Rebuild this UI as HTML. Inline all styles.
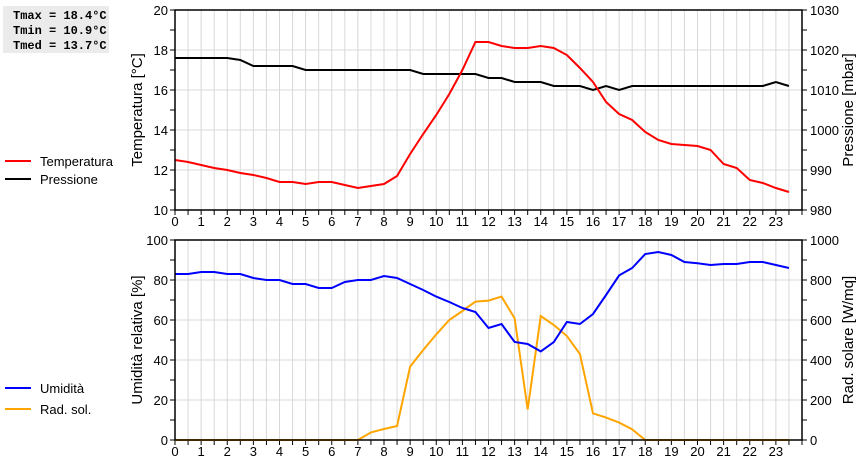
<!DOCTYPE html>
<html><head><meta charset="utf-8"><style>
body{margin:0;background:#fff;width:860px;height:460px;overflow:hidden;font-family:"Liberation Sans",sans-serif}
</style></head><body>
<svg id="c" width="860" height="460" xmlns="http://www.w3.org/2000/svg">
<rect x="3" y="6" width="106" height="47" fill="#ebebeb"/>
<g font-family="Liberation Mono,monospace" font-size="12" font-weight="bold" fill="#000">
<text x="13" y="19">Tmax = 18.4°C</text>
<text x="13" y="34">Tmin = 10.9°C</text>
<text x="13" y="49">Tmed = 13.7°C</text>
</g>
<g font-size="13">
<line x1="5" y1="161" x2="31" y2="161" stroke="#f00" stroke-width="2"/><text x="40" y="166">Temperatura</text>
<line x1="5" y1="179" x2="31" y2="179" stroke="#000" stroke-width="2"/><text x="40" y="184">Pressione</text>
</g>
<g font-size="13">
<line x1="5" y1="388" x2="31" y2="388" stroke="#00f" stroke-width="2"/><text x="40" y="393">Umidità</text>
<line x1="5" y1="409" x2="31" y2="409" stroke="#ffa500" stroke-width="2"/><text x="40" y="414">Rad. sol.</text>
</g>
</svg>
<script>
const hours=[0,0.5,1,1.5,2,2.5,3,3.5,4,4.5,5,5.5,6,6.5,7,7.5,8,8.5,9,9.5,10,10.5,11,11.5,12,12.5,13,13.5,14,14.5,15,15.5,16,16.5,17,17.5,18,18.5,19,19.5,20,20.5,21,21.5,22,22.5,23,23.5];
const temperature=[12.5,12.4,12.25,12.1,12.0,11.85,11.75,11.6,11.4,11.4,11.3,11.4,11.4,11.25,11.1,11.2,11.3,11.7,12.8,13.8,14.75,15.8,17.0,18.4,18.4,18.2,18.1,18.1,18.2,18.1,17.75,17.1,16.4,15.4,14.8,14.5,13.9,13.5,13.3,13.25,13.2,13.0,12.3,12.1,11.5,11.35,11.1,10.9];
const pressure=[1018,1018,1018,1018,1018,1017.5,1016,1016,1016,1016,1015,1015,1015,1015,1015,1015,1015,1015,1015,1014,1014,1014,1014,1014,1013,1013,1012,1012,1012,1011,1011,1011,1010,1011,1010,1011,1011,1011,1011,1011,1011,1011,1011,1011,1011,1011,1012,1011];
const humidity=[83,83,84,84,83,83,81,80,80,78,78,76,76,79,80,80,82,81,78,75,71.7,69,66,64,56,58,49,48,44.3,49,59,58,63,72.5,82.3,86,93,94,92.5,89,88.4,87.5,88,88,89,89,87.5,86];
const radiation=[0,0,0,0,0,0,0,0,0,0,0,0,0,0,0,38,55,70,367,450,528,600,645,692,697,717,608,153,620,575,520,430,133,112,87,53,0,0,0,0,0,0,0,0,0,0,0,0];
const tempTicks=[10,12,14,16,18,20];
const pressTicks=[980,990,1000,1010,1020,1030];
const humTicks=[0,20,40,60,80,100];
const radTicks=[0,200,400,600,800,1000];

const svg=document.getElementById('c');
const NS='http://www.w3.org/2000/svg';
const X0=175,X1=802;
const xs=h=>X0+(X1-X0)*h/24;
function el(tag,attrs,parent){const e=document.createElementNS(NS,tag);for(const k in attrs)e.setAttribute(k,attrs[k]);(parent||svg).appendChild(e);return e;}
function panel(name,top,bot,lt,rt,lTitle,rTitle,series){
  const g=el('g',{});
  
  
  const ly=v=>bot-(bot-top)*(v-lt[0])/(lt[lt.length-1]-lt[0]);
  const ry=v=>bot-(bot-top)*(v-rt[0])/(rt[rt.length-1]-rt[0]);
  for(let i=0;i<=48;i++){const x=xs(i/2);
    el('line',{x1:x,y1:top,x2:x,y2:bot,stroke:'#d8d8d8','stroke-width':1},g);
    el('line',{x1:x,y1:bot,x2:x,y2:bot+5,stroke:'#000'},g);}
  const n=lt.length-1;
  for(let i=0;i<=2*n;i++){const y=top+(bot-top)*i/(2*n);
    if(i%2===0&&i>0&&i<2*n) el('line',{x1:X0,y1:y,x2:X1,y2:y,stroke:'#d8d8d8'},g);
    el('line',{x1:X0-5,y1:y,x2:X0,y2:y,stroke:'#000'},g);
    el('line',{x1:X1,y1:y,x2:X1+5,y2:y,stroke:'#000'},g);}
  lt.forEach(v=>{const t=el('text',{x:X0-7,y:ly(v)+5,'text-anchor':'end','font-size':13},g);t.textContent=v;
    });
  rt.forEach(v=>{const t=el('text',{x:X1+8,y:ry(v)+5,'font-size':13},g);t.textContent=v;
    });
  for(let h=0;h<24;h++){const t=el('text',{x:xs(h),y:bot+16,'text-anchor':'middle','font-size':13},g);t.textContent=h;
    }
  const lt1=el('text',{transform:`translate(142,${(top+bot)/2}) rotate(-90)`,'text-anchor':'middle','font-size':15},g);lt1.textContent=lTitle;
  
  const rt1=el('text',{transform:`translate(853,${(top+bot)/2}) rotate(-90)`,'text-anchor':'middle','font-size':15},g);rt1.textContent=rTitle;
  
  series.forEach(s=>{const f=s.axis==='l'?ly:ry;
    const p=el('polyline',{points:s.data.map((v,i)=>xs(hours[i])+','+f(v)).join(' '),fill:'none',stroke:s.color,'stroke-width':2},g);
    
    });
  el('rect',{x:X0,y:top,width:X1-X0,height:bot-top,fill:'none',stroke:'#000','stroke-width':1.5},g);
}
panel('top-panel',10,210,tempTicks,pressTicks,'Temperatura [°C]','Pressione [mbar]',[
 {data:pressure,color:'#000',axis:'r',name:'pressure-line'},
 {data:temperature,color:'#f00',axis:'l',name:'temperature-line'}]);
panel('bottom-panel',240,440,humTicks,radTicks,'Umidità relativa [%]','Rad. solare [W/mq]',[
 {data:radiation,color:'#ffa500',axis:'r',name:'radiation-line'},
 {data:humidity,color:'#00f',axis:'l',name:'humidity-line'}]);
</script>
</body></html>
